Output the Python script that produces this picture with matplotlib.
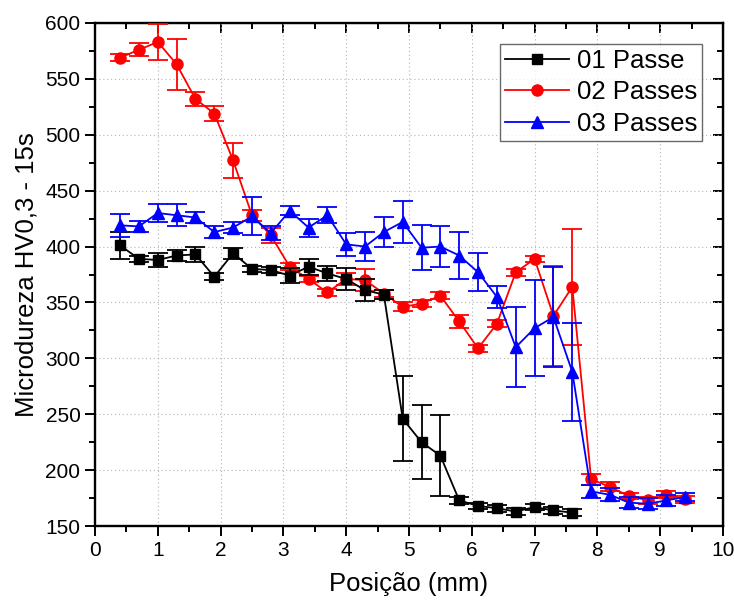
import numpy as np
import matplotlib
matplotlib.use("Agg")
import matplotlib.pyplot as plt
from matplotlib.lines import Line2D
from matplotlib.ticker import MultipleLocator

plt.rcParams["font.family"] = ["Liberation Sans", "DejaVu Sans"]

# Microhardness profiles along the weld cross-section
pos = [0.4, 0.7, 1.0, 1.3, 1.6, 1.9, 2.2, 2.5, 2.8, 3.1, 3.4, 3.7, 4.0, 4.3, 4.6,
       4.9, 5.2, 5.5, 5.8, 6.1, 6.4, 6.7, 7.0, 7.3, 7.6, 7.9, 8.2, 8.5, 8.8, 9.1, 9.4]

hv_1p = [401, 389, 388, 392, 393, 373, 394, 380, 379, 374, 382, 376, 371, 361, 357,
         246, 225, 213, 173, 168, 166, 163, 167, 164, 162]
err_1p = [12, 3, 6, 5, 7, 3, 5, 3, 3, 7, 7, 7, 10, 10, 4,
          38, 33, 36, 3, 3, 3, 3, 3, 3, 3]

hv_2p = [569, 576, 583, 563, 532, 519, 477, 428, 410, 382, 371, 359, 371, 370, 358,
         346, 349, 356, 333, 309, 331, 377, 389, 338, 364, 192, 185, 177, 173, 178, 174]
err_2p = [3, 6, 16, 23, 6, 7, 16, 5, 7, 3, 3, 3, 5, 10, 3,
          4, 3, 3, 6, 3, 3, 3, 3, 45, 52, 5, 4, 3, 3, 3, 3]

hv_3p = [419, 418, 430, 428, 426, 413, 417, 427, 412, 432, 417, 428, 402, 400, 413,
         422, 399, 400, 392, 377, 355, 310, 327, 337, 288, 181, 178, 171, 170, 173, 176]
err_3p = [10, 5, 8, 10, 5, 5, 5, 17, 6, 4, 8, 7, 10, 13, 13,
          19, 20, 18, 21, 17, 10, 36, 43, 45, 44, 6, 6, 5, 5, 5, 4]

labels = ["01 Passe", "02 Passes", "03 Passes"]
colors = ["black", "#ff0000", "#0000ff"]
markers = ["s", "o", "^"]
msizes = [7, 8, 9]

fig = plt.figure(figsize=(7.34, 6.04), dpi=100)
ax = fig.add_axes([0.1294, 0.129, 0.8556, 0.833])

common = dict(lw=1.3, elinewidth=1.3, capsize=7, capthick=1.3)

ax.errorbar(pos, hv_2p, yerr=err_2p, color=colors[1], marker=markers[1],
            ms=msizes[1], zorder=3, **common)
ax.errorbar(pos[:len(hv_1p)], hv_1p, yerr=err_1p, color=colors[0],
            marker=markers[0], ms=msizes[0], zorder=4, **common)
ax.errorbar(pos, hv_3p, yerr=err_3p, color=colors[2], marker=markers[2],
            ms=msizes[2], zorder=5, **common)

ax.set_xlim(0, 10)
ax.set_ylim(150, 600)
ax.xaxis.set_major_locator(MultipleLocator(1))
ax.xaxis.set_minor_locator(MultipleLocator(0.5))
ax.yaxis.set_major_locator(MultipleLocator(50))
ax.yaxis.set_minor_locator(MultipleLocator(25))

ax.grid(True, which="major", linestyle=(0, (1, 2.5)), color="#b4b4b4", lw=0.8)
ax.set_axisbelow(True)

for s in ax.spines.values():
    s.set_linewidth(1.7)

ax.tick_params(which="both", direction="out", labelsize=15, width=1.4,
               top=False, right=False)
ax.tick_params(which="major", length=7)
ax.tick_params(which="minor", length=4)

# mirrored inward ticks on top and right
ax_t = ax.secondary_xaxis("top")
ax_t.xaxis.set_major_locator(MultipleLocator(1))
ax_t.xaxis.set_minor_locator(MultipleLocator(0.5))
ax_t.tick_params(which="both", direction="in", labeltop=False, width=1.4)
ax_t.tick_params(which="major", length=7)
ax_t.tick_params(which="minor", length=4)
ax_r = ax.secondary_yaxis("right")
ax_r.yaxis.set_major_locator(MultipleLocator(50))
ax_r.yaxis.set_minor_locator(MultipleLocator(25))
ax_r.tick_params(which="both", direction="in", labelright=False, width=1.4)
ax_r.tick_params(which="major", length=7)
ax_r.tick_params(which="minor", length=4)

ax.set_xlabel("Posição (mm)", fontsize=18.5, labelpad=9)
ax.set_ylabel("Microdureza HV0,3 - 15s", fontsize=18.5, labelpad=5)

handles = [Line2D([], [], color=c, marker=m, ms=s, lw=1.3)
           for c, m, s in zip(colors, markers, msizes)]
leg = ax.legend(handles=handles, labels=labels, loc="upper right", fontsize=18.5,
                frameon=True, fancybox=False, edgecolor="#444444",
                borderpad=0.2, labelspacing=0.3, handlelength=2.5,
                handletextpad=0.3, borderaxespad=0.8)
leg.get_frame().set_linewidth(1.0)

fig.savefig("out.png", dpi=100)
